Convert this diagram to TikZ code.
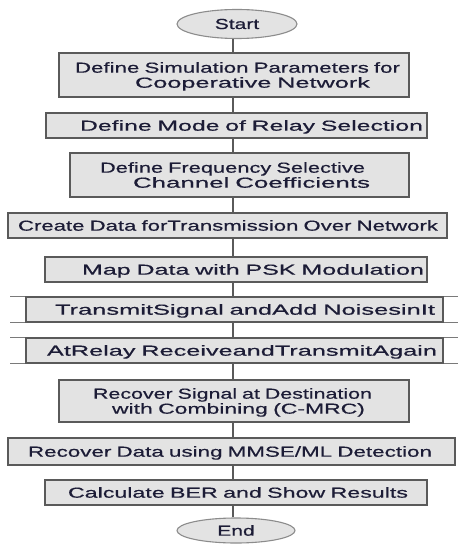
\documentclass[tikz,border=0pt]{standalone}
\usepackage{fontspec}
\setmainfont{Liberation Sans}[FakeStretch=1.45, FakeBold=0.5]
\usepackage{graphicx}
\usetikzlibrary{shapes.geometric}
\setlength{\parindent}{0pt}

\definecolor{boxfill}{HTML}{E3E3E3}
\definecolor{boxline}{HTML}{5A5A5A}
\definecolor{sideline}{HTML}{7A7A7A}
\definecolor{ovalline}{HTML}{8C8C8C}
\definecolor{inkcol}{HTML}{1C1C36}

% one text line: left indent, fitted width, text (strut fixes the line box)
\newcommand{\fitline}[3]{\hspace*{#1pt}\rule[-1pt]{0pt}{12.4pt}\smash{\resizebox{#2pt}{\height}{#3}}}

\tikzset{
  stepbox/.style={draw=boxline, line width=1.3pt, fill=boxfill, inner sep=0pt,
    align=left, text=inkcol, font=\fontsize{14.5}{15}\selectfont},
  oval/.style={ellipse, draw=ovalline, line width=1.1pt, fill=boxfill,
    inner sep=0pt, text=inkcol, font=\fontsize{14.5}{15}\selectfont},
  conn/.style={draw=boxline, line width=1.4pt},
  side/.style={draw=sideline, line width=1.2pt}
}

\begin{document}
\begin{tikzpicture}[x=1pt, y=-1pt]
\useasboundingbox[fill=white] (0,0) rectangle (457,545);

\node[oval, minimum width=120pt, minimum height=29pt] (start) at (237,24) {Start};

\node[stepbox, minimum height=44pt, text width=350pt] (b1) at (234,75)
  {\fitline{16}{325}{Define Simulation Parameters for}\\
   \fitline{76}{235}{Cooperative Network}};

\node[stepbox, minimum height=25pt, text width=381pt] (b2) at (236.5,125.5)
  {\fitline{34}{343}{Define Mode of Relay Selection}};

\node[stepbox, minimum height=44pt, text width=339pt] (b3) at (239.5,175)
  {\fitline{30}{265}{Define Frequency Selective}\\
   \fitline{63}{237}{Channel Coefficients}};

\node[stepbox, minimum height=25pt, text width=439pt] (b4) at (227.5,225.5)
  {\fitline{10}{420}{Create Data forTransmission Over Network}};

\node[stepbox, minimum height=25pt, text width=382pt] (b5) at (236,269.5)
  {\fitline{37}{342}{Map Data with PSK Modulation}};

\node[stepbox, minimum height=25pt, text width=417pt] (b6) at (234.5,309.5)
  {\fitline{29}{380}{TransmitSignal andAdd NoisesinIt}};

\node[stepbox, minimum height=25pt, text width=417pt] (b7) at (234.5,350.5)
  {\fitline{21}{390}{AtRelay ReceiveandTransmitAgain}};

\node[stepbox, minimum height=42pt, text width=350pt] (b8) at (234,401)
  {\fitline{34}{279}{Recover Signal at Destination}\\
   \fitline{53}{253}{with Combining (C-MRC)}};

\node[stepbox, minimum height=27pt, text width=447pt] (b9) at (231.5,451.5)
  {\fitline{20}{404}{Recover Data using MMSE/ML Detection}};

\node[stepbox, minimum height=25pt, text width=382pt] (b10) at (236,492.5)
  {\fitline{23}{340}{Calculate BER and Show Results}};

\node[oval, minimum width=118pt, minimum height=25pt] (end) at (236,530.5) {End};

% side rails of the two process boxes
\foreach \b in {b6,b7} {
  \draw[side] ([xshift=-15pt]\b.north west) -- ([xshift=-0.6pt]\b.north west);
  \draw[side] ([xshift=-15pt]\b.south west) -- ([xshift=-0.6pt]\b.south west);
  \draw[side] ([xshift=0.6pt]\b.north east) -- ([xshift=14pt]\b.north east);
  \draw[side] ([xshift=0.6pt]\b.south east) -- ([xshift=14pt]\b.south east);
}

% vertical flow line
\coordinate (spine) at (233,0);
\foreach \a/\b in {start/b1, b1/b2, b2/b3, b3/b4, b4/b5, b5/b6, b6/b7,
                   b7/b8, b8/b9, b9/b10, b10/end} {
  \draw[conn] (spine |- \a.south) -- (spine |- \b.north);
}
\end{tikzpicture}
\end{document}
